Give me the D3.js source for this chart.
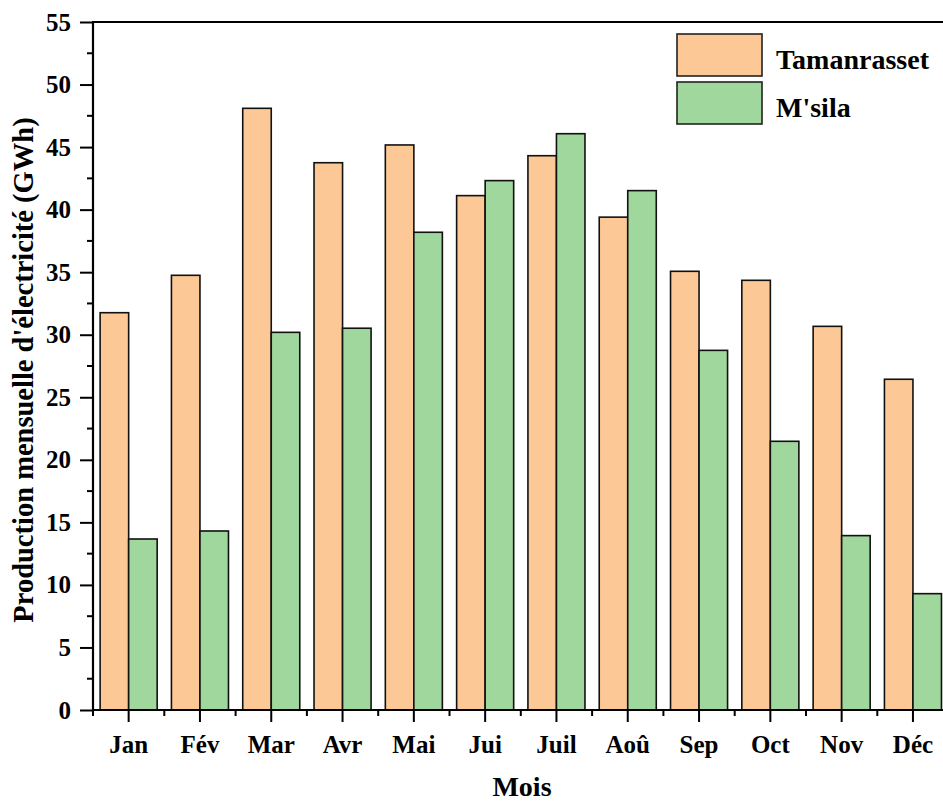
<!DOCTYPE html>
<html>
<head>
<meta charset="utf-8">
<script src="https://cdn.jsdelivr.net/npm/d3@7"></script>
<style>
  html, body { margin: 0; padding: 0; background: #fff; }
  svg { display: block; font-family: "Liberation Serif", "Times New Roman", serif; font-weight: bold; }
</style>
</head>
<body>
<svg id="chart" width="943" height="802"></svg>
<script>
// Monthly electricity production (GWh)
const months = ["Jan", "Fév", "Mar", "Avr", "Mai", "Jui", "Juil", "Aoû", "Sep", "Oct", "Nov", "Déc"];
const tamanrasset = [31.76, 34.75, 48.1, 43.75, 45.17, 41.12, 44.31, 39.4, 35.07, 34.35, 30.67, 26.44];
const msila = [13.67, 14.31, 30.19, 30.52, 38.19, 42.32, 46.07, 41.52, 28.75, 21.48, 13.94, 9.3];
const seriesNames = ["Tamanrasset", "M'sila"];
const seriesColors = ["#fcc896", "#9fd79c"];
const yTicks = [0, 5, 10, 15, 20, 25, 30, 35, 40, 45, 50, 55];

const svg = d3.select("#chart");
const plotLeft = 93, plotTop = 22, plotBottom = 710, svgWidth = 943;
const step = 71.3;
const plotRight = plotLeft + step * months.length;

const x = d3.scaleBand().domain(months).range([plotLeft, plotRight]).paddingInner(0.2).paddingOuter(0.1);
const xs = d3.scaleBand().domain(seriesNames).range([0, x.bandwidth()]);
const y = d3.scaleLinear().domain([0, 55]).range([plotBottom, plotTop]);

const rows = months.map((m, i) => ({ month: m, values: [tamanrasset[i], msila[i]] }));

// Bars
const groups = svg.append("g").selectAll("g").data(rows).join("g")
  .attr("transform", d => `translate(${x(d.month)},0)`);
groups.selectAll("rect").data(d => d.values.map((v, k) => ({ v, k })))
  .join("rect")
  .attr("x", d => xs(seriesNames[d.k]))
  .attr("width", xs.bandwidth())
  .attr("y", d => y(d.v))
  .attr("height", d => y(0) - y(d.v))
  .attr("fill", d => seriesColors[d.k])
  .attr("stroke", "#111")
  .attr("stroke-width", 1.6);

// Y axis with major and minor ticks
const yAxis = svg.append("g").attr("transform", `translate(${plotLeft},0)`);
const minorY = d3.range(2.5, 55, 5);
yAxis.selectAll("line.minor").data(minorY).join("line")
  .attr("class", "minor")
  .attr("x1", -6).attr("x2", 0)
  .attr("y1", d => y(d)).attr("y2", d => y(d))
  .attr("stroke", "#000").attr("stroke-width", 2);
yAxis.call(d3.axisLeft(y).tickValues(yTicks).tickSize(13).tickPadding(9).tickFormat(d3.format("d")))
  .call(g => g.select(".domain").remove())
  .call(g => g.selectAll(".tick line").attr("stroke-width", 2))
  .call(g => g.selectAll(".tick text")
    .attr("font-family", "Liberation Serif, Times New Roman, serif")
    .attr("font-weight", "bold").attr("font-size", 25).attr("fill", "#000"));
yAxis.append("line").attr("x1", 0).attr("x2", 0).attr("y1", plotTop - 1).attr("y2", plotBottom + 1)
  .attr("stroke", "#000").attr("stroke-width", 2.2);

// X axis: major ticks at months, minor ticks between
const xAxis = svg.append("g").attr("transform", `translate(0,${plotBottom})`);
const bounds = d3.range(months.length + 1).map(i => plotLeft + i * step);
xAxis.selectAll("line.minor").data(bounds).join("line")
  .attr("class", "minor")
  .attr("x1", d => d).attr("x2", d => d)
  .attr("y1", 0).attr("y2", 6)
  .attr("stroke", "#000").attr("stroke-width", 2);
xAxis.call(d3.axisBottom(x).tickSize(12).tickPadding(13))
  .call(g => g.select(".domain").remove())
  .call(g => g.selectAll(".tick line").attr("stroke-width", 2))
  .call(g => g.selectAll(".tick text")
    .attr("font-family", "Liberation Serif, Times New Roman, serif")
    .attr("font-weight", "bold").attr("font-size", 25).attr("fill", "#000"));
xAxis.append("line").attr("x1", plotLeft - 1).attr("x2", svgWidth).attr("y1", 0).attr("y2", 0)
  .attr("stroke", "#000").attr("stroke-width", 2.2);

// Top frame line
svg.append("line").attr("x1", plotLeft - 1).attr("x2", svgWidth).attr("y1", plotTop).attr("y2", plotTop)
  .attr("stroke", "#000").attr("stroke-width", 2.2);

// Axis titles
svg.append("text").attr("x", (plotLeft + svgWidth) / 2 + 4).attr("y", 796)
  .attr("text-anchor", "middle").attr("font-size", 28).text("Mois");
svg.append("text")
  .attr("transform", `translate(33,${(plotTop + plotBottom) / 2 + 4}) rotate(-90)`)
  .attr("text-anchor", "middle").attr("font-size", 28.5)
  .text("Production mensuelle d'électricité (GWh)");

// Legend
const legend = svg.append("g").attr("transform", "translate(677,34)");
const items = legend.selectAll("g").data(seriesNames).join("g")
  .attr("transform", (d, i) => `translate(0,${i * 48})`);
items.append("rect").attr("width", 85).attr("height", 42)
  .attr("fill", (d, i) => seriesColors[i]).attr("stroke", "#222").attr("stroke-width", 1.6);
items.append("text").attr("x", 99).attr("y", 35).attr("font-size", 28).text(d => d);
</script>
</body>
</html>
